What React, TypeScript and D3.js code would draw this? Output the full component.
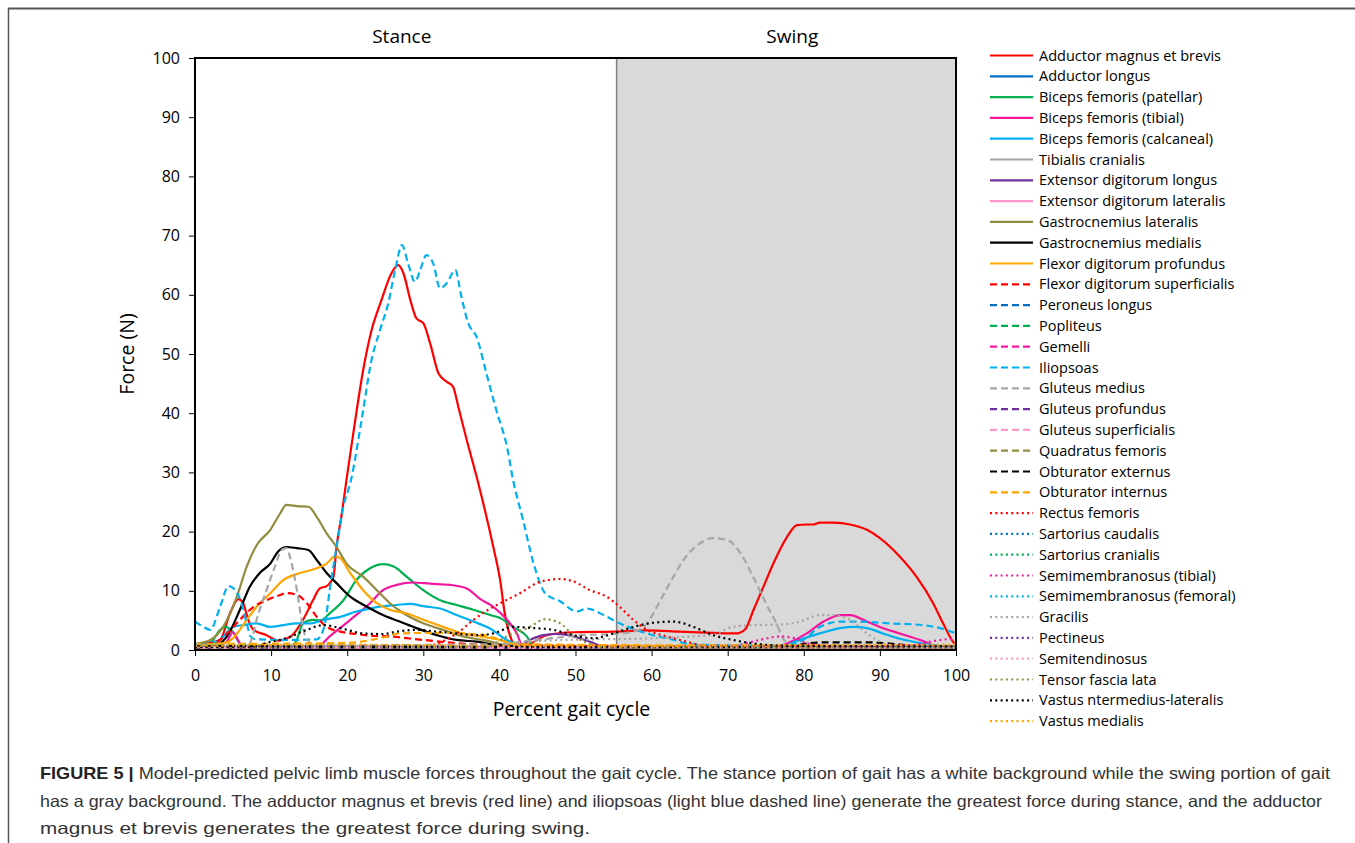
import React, { useEffect, useRef } from "react"
import * as d3 from "d3"

// colours (Excel palette)
const RED = "#FF0000"
const BLUE = "#0070C0"
const GREEN = "#00B050"
const MAGENTA = "#F5169F"
const LBLUE = "#00B0F0"
const GRAY = "#A6A6A6"
const PURPLE = "#7030A0"
const PINK = "#FF99CC"
const OLIVE = "#938B3E"
const BLACK = "#000000"
const ORANGE = "#FFA500"

const xTicks = [0, 10, 20, 30, 40, 50, 60, 70, 80, 90, 100]
const yTicks = [0, 10, 20, 30, 40, 50, 60, 70, 80, 90, 100]
const swingStart = 55.4

// [percent gait cycle, force N]
const adductorMagnus = [[0,1],[2,1.2],[3.3,1.7],[4.6,6.2],[5.7,8.6],[6.3,8],[7,5.1],[7.7,3.4],[9.4,2.5],[10.9,1.6],[12.5,2.2],[14.2,5.1],[15.5,8.4],[16.4,10.4],[17.3,10.8],[18.2,12.4],[18.6,17.4],[19.3,23.1],[19.9,28.7],[20.8,36.6],[22.1,47.3],[23.2,54],[24.5,59.1],[25.8,63.6],[26.7,65],[27.4,63.6],[28.3,59.1],[29.1,56],[30,55.2],[30.9,51.8],[32,46.7],[33.1,45.3],[33.9,44.5],[34.6,41.1],[35.7,35.5],[37,29.3],[39.2,17.4],[40.1,11.8],[40.7,6.2],[41.6,1.7],[42,0.8],[44,1.1],[46.2,2.5],[49.7,3],[55,3.1],[59.4,3.3],[63.7,3.1],[68.1,2.9],[71.2,2.8],[72.3,3.5],[73.4,6.8],[74.7,10.7],[76,14.6],[77.8,19.1],[79.1,21.1],[80.4,21.2],[81.3,21.2],[82.1,21.5],[83.9,21.5],[86.1,21.2],[88.3,20.3],[90,18.9],[92.6,15.8],[94.8,12.4],[97,7.9],[98.3,4.5],[99.6,1.4],[100,0.8]]
const adductorLongus = [[0,0.4],[15,0.6],[30,0.5],[50,0.3],[75,0.4],[100,0.3]]
const bicepsPatellar = [[0,0.8],[2,1.2],[3.3,3.4],[4,3.9],[5,3],[6,1],[8,0.5],[12.5,0.5],[13.3,1.5],[14.2,4.5],[15.5,5.1],[16.5,5],[17.7,6.2],[19.5,8.4],[21.2,11.8],[23,13.8],[24.7,14.5],[26.1,14.1],[27.8,12.4],[30,10.1],[32.2,8.4],[34.4,7.6],[36.6,6.8],[38.8,5.9],[40.1,5.4],[41.8,3.9],[43.6,2.3],[44.4,0.8],[50,0.4],[80,0.4],[84,0.7],[90,0.6],[100,0.3]]
const bicepsTibial = [[0,0.5],[4,1.2],[5,3],[6,1],[8,0.4],[16,0.5],[17.7,2.3],[20.4,5.1],[23,7.9],[24.7,10.1],[26.5,11],[28.7,11.4],[30.9,11.2],[33.5,11],[35.7,10.4],[37.5,8.6],[39.2,7.3],[41,5.1],[42.3,2.8],[43,0.8],[50,0.3],[76,0.4],[77.8,1.1],[80.4,2.8],[82.6,4.8],[84.8,5.9],[86.1,5.9],[88.3,4.8],[90,3.9],[92.6,2.8],[95.7,1.5],[97,0.8],[100,0.5]]
const bicepsCalcaneal = [[0,1],[3,1.5],[5,3.9],[6.3,4.2],[8.1,4.5],[9.9,3.9],[11.6,4.2],[13.4,4.5],[15.2,4.5],[16.9,5.1],[19.1,5.6],[21.2,6.5],[23,7],[24.7,7.4],[26.5,7.6],[28.3,7.8],[30,7.4],[32.2,7],[34.4,5.9],[36.6,4.8],[38.8,3.6],[41,1.7],[43,0.8],[50,0.4],[77,0.5],[79,1.5],[82.1,2.8],[84.8,3.7],[86.5,3.9],[88.3,3.7],[90.4,2.8],[92.6,1.9],[94.4,1.4],[97,0.8],[100,0.6]]
const tibialisCranialis = [[0,0.6],[10,0.8],[30,0.6],[50,0.5],[80,0.7],[100,0.5]]
const extDigLongus = [[0,0.3],[42,0.4],[44,1.7],[45.8,2.5],[47.5,2.7],[49.7,2.3],[51.9,1.4],[54,0.5],[100,0.3]]
const extDigLateralis = [[0,0.3],[20,0.4],[45,0.3],[70,0.4],[100,0.3]]
const gastroLateralis = [[0,1],[2,1.7],[3.7,3.9],[5.5,9],[6.8,14.1],[8.1,17.7],[9.9,20.3],[11.2,23.1],[12,24.5],[13.4,24.3],[14.9,24.2],[16,22.5],[17.3,19.7],[18.6,17.4],[19.9,14.6],[22.1,12.4],[23.9,10.1],[25.6,7.9],[27.4,6.2],[30,4.5],[32.6,3.4],[35.2,2.3],[37.8,1.7],[42,0.6],[50,0.4],[100,0.4]]
const gastroMedialis = [[0,0.8],[3,1],[4.2,2.3],[5.9,6.8],[7.2,10.7],[8.5,13],[9.9,14.6],[10.9,16.6],[12,17.4],[13.4,17.2],[14.9,16.9],[16,15.2],[17.3,13],[18.6,11.3],[20.4,9],[22.6,7.3],[24.7,5.9],[26.9,4.8],[29.1,3.7],[31.8,2.5],[34.4,1.7],[37,1.4],[40,0.8],[50,0.5],[100,0.5]]
const flexDigProfundus = [[0,0.8],[4,1.2],[5,2],[6.8,5.1],[8.1,7.3],[9.9,9.6],[11.6,11.8],[13.8,13],[16,13.8],[17.3,14.6],[18.4,15.8],[19,15.6],[20.4,13],[22.1,10.1],[23.9,7.9],[25.6,6.8],[27.8,6.2],[30,5.1],[32.6,3.9],[35.2,2.8],[37.5,2.3],[40,1.7],[42,1],[50,0.6],[100,0.6]]
const flexDigSuperficialis = [[0,0.8],[3,1.5],[4,2.5],[5.9,5.1],[7.7,7.3],[9.4,8.4],[11.2,9.3],[12,9.6],[13.4,9.3],[14.7,7.9],[16,5.6],[17.3,3.9],[19.1,3.1],[21.2,2.7],[23.4,2.4],[25.6,2.3],[27.8,2],[30,1.7],[34,1.2],[40,0.8],[100,0.5]]
const peroneusLongus = [[0,0.5],[25,0.4],[50,0.5],[80,0.3],[100,0.4]]
const popliteus = [[0,0.6],[20,0.5],[40,0.4],[70,0.3],[100,0.4]]
const gemelli = [[0,0.4],[30,0.6],[60,0.4],[100,0.3]]
const iliopsoas = [[0,4.8],[1,4],[2,3.4],[3.3,7.3],[4.4,10.8],[5.3,10.1],[6.1,7.9],[6.8,4.5],[7.3,2.3],[8,1.8],[12,1.7],[16,1.8],[17,4],[17.7,10.1],[18.6,17.4],[19.5,24.2],[20.5,28.7],[21.9,38.9],[23.2,49],[24.3,54],[25.4,58.6],[26.3,64.2],[27.2,68.4],[28,65.3],[28.9,62.2],[29.6,64.2],[30.4,66.7],[31.3,65.3],[32.2,61.1],[33.1,62],[34.2,64.2],[35,59.7],[35.9,55.2],[37,52.9],[38.3,46.7],[39.6,40.5],[41,34.3],[41.8,28.7],[43.1,22],[44.5,14.6],[46,9.6],[48,8.2],[50.2,6.5],[51.5,7],[53.7,5.9],[55.8,4.5],[58,3.4],[60.2,2.5],[62.9,1.7],[65,1],[70,0.8],[78,0.8],[80,1.8],[82.1,3.9],[84.8,4.8],[87,4.8],[91.3,4.5],[95.7,4.2],[97.9,3.7],[100,2.8]]
const gluteusMedius = [[0,0.5],[7,0.8],[7.5,2],[8.1,5.1],[9.4,10.1],[10.5,14.1],[11.4,16.9],[12,17.2],[12.7,14.6],[13.4,10.1],[14,5.1],[14.5,2.3],[15.5,1],[20,0.8],[40,1],[44,1.6],[47.1,2],[50.6,2.5],[55,2.7],[57.6,3.1],[59.4,4.5],[60.7,7.3],[62.4,11.3],[64.2,15.2],[66,17.7],[68.1,18.9],[69.9,18.6],[71.6,16.5],[73.4,12.2],[75.1,7.7],[76.4,4.5],[77.4,1.7],[79,0.6],[100,0.5]]
const gluteusProfundus = [[0,0.3],[30,0.4],[60,0.3],[100,0.3]]
const gluteusSuperficialis = [[0,0.5],[20,0.7],[45,0.5],[75,0.4],[100,0.5]]
const quadratusFemoris = [[0,0.6],[25,0.7],[50,0.5],[80,0.4],[100,0.4]]
const obturatorExternus = [[0,0.8],[10,0.6],[40,0.5],[78,0.5],[80,1],[83,1.3],[88,1.3],[92,1],[95,0.6],[100,0.6]]
const obturatorInternus = [[0,1],[20,1.2],[25,2.2],[27,2.8],[31,2.9],[35,2.8],[38,2.5],[40,1.8],[42,1],[60,0.8],[100,0.7]]
const rectusFemoris = [[0,0.5],[30,0.6],[32.6,1.5],[34.4,2.8],[36.6,5.1],[38.3,6.6],[40.1,7.9],[42.7,9.6],[45.3,11.5],[48,12],[49.7,11.6],[51.9,10.1],[54.1,9],[55.8,7.3],[57.6,5.1],[59.4,3.4],[62,2.3],[64.6,1.4],[67,0.7],[100,0.6]]
const sartoriusCaudalis = [[0,0.4],[30,0.5],[60,0.4],[100,0.5]]
const sartoriusCranialis = [[0,0.7],[20,0.5],[50,0.6],[80,0.5],[100,0.4]]
const semimemTibial = [[0,0.6],[70,0.6],[74.2,1.7],[76.9,2.3],[79.1,1.9],[80.4,1.1],[85,0.6],[94,0.8],[97,1.5],[100,2]]
const semimemFemoral = [[0,0.9],[20,0.6],[50,0.5],[80,0.6],[100,0.8]]
const gracilis = [[0,0.4],[40,0.6],[45,1.5],[52,1.8],[58,1.9],[64,2.2],[68.1,2.6],[70.7,3.9],[73.4,4.2],[77,4.3],[79.5,4.8],[82.1,5.9],[83.9,5.9],[86.1,5.1],[88.3,2.8],[90,1.4],[92,0.6],[100,0.5]]
const pectineus = [[0,0.5],[30,0.4],[60,0.5],[100,0.4]]
const semitendinosus = [[0,0.3],[25,0.3],[55,0.4],[100,0.3]]
const tensorFasciaLata = [[0,0.3],[38,0.4],[41,2.3],[44,3.9],[46,5.2],[48,4.5],[49.7,2.5],[52,1],[55,0.4],[100,0.4]]
const vastusIntLat = [[0,0.5],[8,0.6],[9.4,1.2],[12,2],[14.5,3.3],[16.9,4.2],[19.1,3.7],[22.1,2.8],[24.7,2.7],[26.5,3.1],[29.1,3.4],[31.8,3.1],[34.4,2.8],[37,2.5],[39.2,2.8],[41.8,3.9],[44.5,3.7],[47.1,3.4],[49.7,2.5],[52.4,2],[55,2.8],[57.6,3.9],[60.2,4.6],[62.9,4.8],[65.5,3.9],[68.1,2.5],[70.7,1.7],[73.4,1.1],[78,0.7],[100,0.6]]
const vastusMedialis = [[0,0.7],[20,0.9],[45,0.7],[75,0.8],[100,0.9]]

const series = [
  { name: "Adductor magnus et brevis", color: RED, style: "solid", data: adductorMagnus },
  { name: "Adductor longus", color: BLUE, style: "solid", data: adductorLongus },
  { name: "Biceps femoris (patellar)", color: GREEN, style: "solid", data: bicepsPatellar },
  { name: "Biceps femoris (tibial)", color: MAGENTA, style: "solid", data: bicepsTibial },
  { name: "Biceps femoris (calcaneal)", color: LBLUE, style: "solid", data: bicepsCalcaneal },
  { name: "Tibialis cranialis", color: GRAY, style: "solid", data: tibialisCranialis },
  { name: "Extensor digitorum longus", color: PURPLE, style: "solid", data: extDigLongus },
  { name: "Extensor digitorum lateralis", color: PINK, style: "solid", data: extDigLateralis },
  { name: "Gastrocnemius lateralis", color: OLIVE, style: "solid", data: gastroLateralis },
  { name: "Gastrocnemius medialis", color: BLACK, style: "solid", data: gastroMedialis },
  { name: "Flexor digitorum profundus", color: ORANGE, style: "solid", data: flexDigProfundus },
  { name: "Flexor digitorum superficialis", color: RED, style: "dash", data: flexDigSuperficialis },
  { name: "Peroneus longus", color: BLUE, style: "dash", data: peroneusLongus },
  { name: "Popliteus", color: GREEN, style: "dash", data: popliteus },
  { name: "Gemelli", color: MAGENTA, style: "dash", data: gemelli },
  { name: "Iliopsoas", color: LBLUE, style: "dash", data: iliopsoas },
  { name: "Gluteus medius", color: GRAY, style: "dash", data: gluteusMedius },
  { name: "Gluteus profundus", color: PURPLE, style: "dash", data: gluteusProfundus },
  { name: "Gluteus superficialis", color: PINK, style: "dash", data: gluteusSuperficialis },
  { name: "Quadratus femoris", color: OLIVE, style: "dash", data: quadratusFemoris },
  { name: "Obturator externus", color: BLACK, style: "dash", data: obturatorExternus },
  { name: "Obturator internus", color: ORANGE, style: "dash", data: obturatorInternus },
  { name: "Rectus femoris", color: RED, style: "dot", data: rectusFemoris },
  { name: "Sartorius caudalis", color: BLUE, style: "dot", data: sartoriusCaudalis },
  { name: "Sartorius cranialis", color: GREEN, style: "dot", data: sartoriusCranialis },
  { name: "Semimembranosus (tibial)", color: MAGENTA, style: "dot", data: semimemTibial },
  { name: "Semimembranosus (femoral)", color: LBLUE, style: "dot", data: semimemFemoral },
  { name: "Gracilis", color: GRAY, style: "dot", data: gracilis },
  { name: "Pectineus", color: PURPLE, style: "dot", data: pectineus },
  { name: "Semitendinosus", color: PINK, style: "dot", data: semitendinosus },
  { name: "Tensor fascia lata", color: OLIVE, style: "dot", data: tensorFasciaLata },
  { name: "Vastus ntermedius-lateralis", color: BLACK, style: "dot", data: vastusIntLat },
  { name: "Vastus medialis", color: ORANGE, style: "dot", data: vastusMedialis },
]

const captionLines = [
  { bold: "FIGURE 5 | ", text: "Model-predicted pelvic limb muscle forces throughout the gait cycle. The stance portion of gait has a white background while the swing portion of gait", len: 1290 },
  { bold: "", text: "has a gray background. The adductor magnus et brevis (red line) and iliopsoas (light blue dashed line) generate the greatest force during stance, and the adductor", len: 1282 },
  { bold: "", text: "magnus et brevis generates the greatest force during swing.", len: 550 },
]

const FONT = "'Open Sans', 'Liberation Sans', sans-serif"
const dashFor = (s: string) => (s === "dash" ? "7,4" : s === "dot" ? "2,3.3" : null)

export default function App() {
  const ref = useRef<SVGSVGElement>(null)

  useEffect(() => {
    const svg = d3.select(ref.current)
    svg.selectAll("*").remove()

    const x = d3.scaleLinear().domain([0, 100]).range([195, 956])
    const y = d3.scaleLinear().domain([0, 100]).range([650, 58])

    // figure frame
    svg.append("line").attr("x1", 8).attr("x2", 1355).attr("y1", 8.5).attr("y2", 8.5).attr("stroke", "#555").attr("stroke-width", 2)
    svg.append("line").attr("x1", 8.5).attr("x2", 8.5).attr("y1", 8).attr("y2", 843).attr("stroke", "#555").attr("stroke-width", 1.5)

    // swing background
    svg.append("rect")
      .attr("x", x(swingStart)).attr("y", y(100))
      .attr("width", x(100) - x(swingStart)).attr("height", y(0) - y(100))
      .attr("fill", "#D9D9D9")
    svg.append("line")
      .attr("x1", x(swingStart)).attr("x2", x(swingStart)).attr("y1", y(100)).attr("y2", y(0))
      .attr("stroke", "#808080").attr("stroke-width", 1.5)

    svg.append("text").text("Stance").attr("x", x(swingStart / 2) - 4).attr("y", 43)
      .attr("text-anchor", "middle").attr("font-family", FONT).attr("font-size", 19).attr("fill", "#000")
    svg.append("text").text("Swing").attr("x", x((swingStart + 100) / 2) + 6).attr("y", 43)
      .attr("text-anchor", "middle").attr("font-family", FONT).attr("font-size", 19).attr("fill", "#000")

    // lines
    const line = d3.line<number[]>()
      .x(d => x(d[0]))
      .y(d => y(d[1]))
      .curve(d3.curveMonotoneX)

    const g = svg.append("g")
    series.forEach(s => {
      const p = g.append("path")
        .attr("d", line(s.data))
        .attr("fill", "none")
        .attr("stroke", s.color)
        .attr("stroke-width", 2.2)
      const da = dashFor(s.style)
      if (da) p.attr("stroke-dasharray", da)
    })

    // plot frame
    svg.append("rect")
      .attr("x", x(0)).attr("y", y(100))
      .attr("width", x(100) - x(0)).attr("height", y(0) - y(100))
      .attr("fill", "none").attr("stroke", "#000").attr("stroke-width", 2)

    // axes
    const xAxis = d3.axisBottom(x).tickValues(xTicks).tickSize(6).tickSizeOuter(0)
    const yAxis = d3.axisLeft(y).tickValues(yTicks).tickSize(6).tickSizeOuter(0)
    const gx = svg.append("g").attr("transform", `translate(0,${y(0)})`).call(xAxis)
    const gy = svg.append("g").attr("transform", `translate(${x(0)},0)`).call(yAxis)
    ;[gx, gy].forEach(a => {
      a.select(".domain").remove()
      a.selectAll("line").attr("stroke", "#000").attr("stroke-width", 1)
      a.selectAll("text").attr("font-family", FONT).attr("font-size", 16).attr("fill", "#000")
    })
    gx.selectAll("text").attr("dy", "1.4em")
    gy.selectAll("text").attr("x", -15)

    svg.append("text").text("Percent gait cycle")
      .attr("x", (x(0) + x(100)) / 2 - 4).attr("y", 716)
      .attr("text-anchor", "middle").attr("font-family", FONT).attr("font-size", 19.5).attr("fill", "#000")
    svg.append("text").text("Force (N)")
      .attr("transform", `translate(134,${y(50)}) rotate(-90)`)
      .attr("text-anchor", "middle").attr("font-family", FONT).attr("font-size", 19.5).attr("fill", "#000")

    // legend
    const lg = svg.append("g")
    series.forEach((s, i) => {
      const yy = 55.5 + i * 20.8
      const l = lg.append("line").attr("x1", 990).attr("x2", 1033).attr("y1", yy).attr("y2", yy)
        .attr("stroke", s.color).attr("stroke-width", 2.2)
      const da = dashFor(s.style)
      if (da) l.attr("stroke-dasharray", da)
      lg.append("text").text(s.name).attr("x", 1039).attr("y", yy).attr("dy", "0.35em")
        .attr("font-family", FONT).attr("font-size", 14.5).attr("fill", "#000")
    })

    // caption
    captionLines.forEach((c, i) => {
      const t = svg.append("text").attr("x", 40).attr("y", 779 + i * 27.5)
        .attr("font-family", "'Liberation Sans Narrow', 'Liberation Sans', sans-serif")
        .attr("font-size", 16.5).attr("fill", "#333")
        .attr("textLength", c.len).attr("lengthAdjust", "spacingAndGlyphs")
      if (c.bold) t.append("tspan").attr("font-weight", "bold").attr("fill", "#222").text(c.bold)
      t.append("tspan").text(c.text)
    })
  }, [])

  return (
    <svg ref={ref} width={1355} height={843}
      style={{ position: "absolute", left: 0, top: 0, background: "#fff" }} />
  )
}
